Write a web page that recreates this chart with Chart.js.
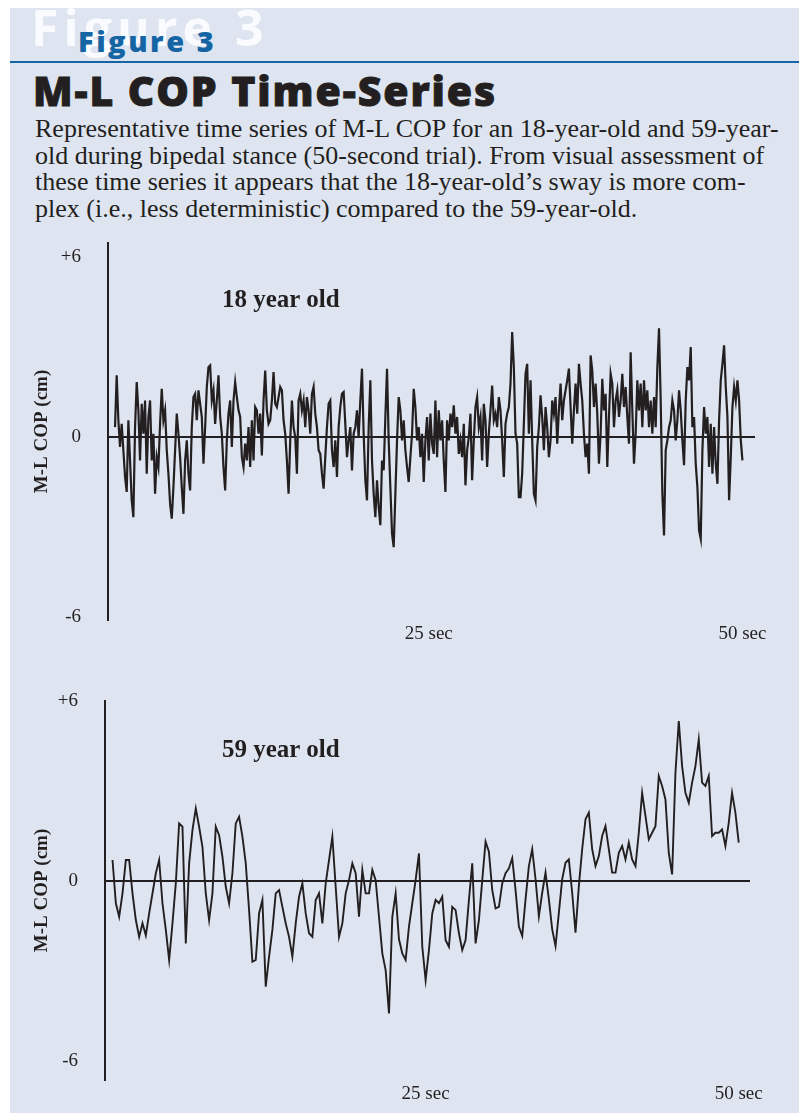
<!DOCTYPE html>
<html>
<head>
<meta charset="utf-8">
<script src="https://cdn.jsdelivr.net/npm/chart.js@4.4.0/dist/chart.umd.min.js"></script>
<style>
  html, body { margin: 0; padding: 0; background: #fff; }
  body { width: 799px; height: 1113px; position: relative; overflow: hidden; }
  #panel { position: absolute; left: 10px; top: 8px; width: 789px; height: 1105px; background: #dee5f0; }
  .ghost { position: absolute; left: 31px; top: 3px; font: 700 50px/49px "Open Sans"; letter-spacing: 5px; color: #fafbfe; white-space: nowrap; }
  .fig { position: absolute; left: 78px; top: 26px; font: 800 29px/29px "Open Sans"; letter-spacing: 2.5px; color: #1565a5; white-space: nowrap; }
  .rule { position: absolute; left: 10px; top: 61px; width: 789px; height: 2px; background: #1565a5; }
  .title { position: absolute; left: 33px; top: 70px; font: 800 41px/40px "Open Sans"; letter-spacing: 1.9px; -webkit-text-stroke: 0.9px #231f20; color: #231f20; white-space: nowrap; }
  .caption { position: absolute; left: 35px; top: 116px; font: 26px/26.7px "Liberation Serif"; color: #231f20; white-space: nowrap; }
  .tag { position: absolute; left: 222px; font: 700 25px/25px "Liberation Serif"; color: #231f20; white-space: nowrap; }
  canvas { position: absolute; left: 0; }
</style>
</head>
<body>
<div id="panel"></div>
<div class="ghost">Figure 3</div>
<div class="fig">Figure 3</div>
<div class="rule"></div>
<div class="title">M-L COP Time-Series</div>
<div class="caption">Representative time series of M-L COP for an 18-year-old and 59-year-<br>old during bipedal stance (50-second trial). From visual assessment of<br>these time series it appears that the 18-year-old’s sway is more com-<br>plex (i.e., less deterministic) compared to the 59-year-old.</div>
<canvas id="young" width="799" height="430" style="top:230px"></canvas>
<canvas id="old" width="799" height="423" style="top:690px"></canvas>
<div class="tag" style="top:286px">18 year old</div>
<div class="tag" style="top:736px">59 year old</div>

<script>
// trial length in seconds, both traces sampled evenly across it
const trialSeconds = 50;
const yTicks = [-6, 0, 6];
const xTicks = [25, 50];

// M-L COP (cm), 18 year old
const cop18 = [
  0.33, 2.06, 0.56, -0.33, 0.44, -0.44, -1.33, -1.83, 0.56, -0.78,
  -2.11, -2.67, 0.33, 1.83, 0.89, -0.78, 1.11, 0.11, 1.22, -1.22,
  0.67, 1.22, -0.78, 0.11, -1.89, -0.67, -1.0, 0.44, 1.61, 0.56,
  0.89, -0.44, -1.22, -2.22, -2.72, -1.67, -0.44, 0.78, 0.11, -0.67,
  -1.67, -2.56, -0.78, -0.11, -1.22, -1.78, 0.33, 1.33, 1.44, 0.56,
  1.56, 1.11, 0.67, -0.89, 0.33, 1.67, 2.33, 2.39, 1.22, 1.56,
  0.44, 1.22, 2.06, 0.67, 0.11, -1.0, -1.78, -0.11, 0.78, 1.22,
  -0.33, 1.22, 1.83, 1.33, 0.89, 0.67, -0.67, -1.0, -0.22, -0.78,
  0.33, -1.0, 0.56, -0.78, 1.0, 0.89, 0.11, 0.78, -0.61, 1.22,
  2.22, 0.89, 0.44, 0.56, 1.22, 2.17, 1.11, 1.0, 1.33, 1.67,
  1.56, 0.56, 0.11, -0.78, -1.89, -0.11, 1.22, 0.33, 0.0, -1.22,
  1.22, 1.44, 0.89, 1.22, 0.33, 1.33, 0.89, 0.11, 1.44, 1.67,
  0.78, 0.33, -0.44,
  -0.56, -1.22, -1.72, -0.67, 0.33, 1.11, 1.22, -0.44, -1.0, -0.11,
  -1.33, 0.33, 1.0, 1.44, 1.5, 0.44, -0.67, -0.11, 0.33, -1.11,
  0.11, 0.33, 0.89, 0.0, 1.22, 2.28, 0.11, -1.44, -2.11, 0.33,
  1.89, -0.78, -1.89, -2.67, -1.44, -2.33, -2.94, -0.78, -1.11, 0.67,
  2.28, -0.11, -1.67, -3.22, -3.67, -1.89, -0.11, 1.33, 0.89, -0.11,
  0.56, -0.44, -1.0, -1.5, -0.67, 0.11, 1.61, 1.0, -0.11, 0.33,
  -0.67, 0.11, -1.5, -0.11, 0.67, -0.78, 0.78, -0.22, -0.56, 1.22,
  -0.67, 0.89, -0.11, 0.56, -0.78, -1.83, 0.56, -0.11, 0.78, 0.33,
  1.06, 0.11, 0.67, -0.56, -0.11, -0.67, 0.44, -1.61, -0.44, 0.0,
  0.78, -1.44, -0.11, 1.0, 1.33, 0.33, 0.67, -0.78, 1.11, 0.56,
  -1.0, 0.11, 0.89, 1.72, 0.56, 0.78, 0.33, 1.33, 0.89, -0.11,
  -1.33, 0.44, 0.78, 1.0, 1.78, 3.5, 2.33, 0.11, -0.22, -2.0,
  -2.0, -1.22, 0.44, 2.11, 2.44, 0.11, 1.89, -0.11, -1.89, -2.11,
  -0.33, 0.33, 1.39, 0.67, -0.44, 1.0, 0.33, -0.67, -0.11, 1.22,
  0.78, 1.33, -0.22, 0.89, 1.78, 0.56, 1.22, 1.56, 1.89, 2.28,
  1.0, -0.22, 0.89, 1.78, 0.78, 2.44, 1.78, 1.22, 0.11, -0.67,
  -0.22, -1.22, 2.72, 2.22, 1.0, 1.78, 0.78, -0.89, 0.11, 1.94,
  0.89, 1.44, -1.0, 0.67, 2.11, 1.78, 0.33, 1.22, 1.56, 0.67,
  1.22, 2.11, 1.0, 1.67, 0.67, -0.22, 2.83, 0.89, -0.89, 0.11,
  1.89, 0.89, 1.78, 0.33, 1.89, 0.89, 1.56, 0.33, 1.22, 0.11,
  1.33, 0.33, 2.33, 3.63, 1.22, -1.89, -3.28, -0.44, -0.11, 0.33,
  0.56, 1.22, 0.89, -0.11, 0.56, 1.56, 0.89, -0.11, -0.94, 1.22,
  2.33, 1.89, 3.0, 0.33, 0.67, -0.89, -1.67, -3.11, -3.39, -0.44,
  1.0, 0.11, 0.67, -1.0, 0.44, -1.22, 0.33, -0.89, -1.56, 0.56,
  1.89, 2.44, 3.06, 1.67, 0.67, -2.11, -0.67, 1.0, 1.67, 1.22,
  1.89, 1.22, -0.11, -0.78
];

// M-L COP (cm), 59 year old
const cop59 = [
  0.7, -0.74, -1.19, -0.41, 0.7, 0.7, -0.41, -1.3, -1.86, -1.41,
  -1.81, -1.08, -0.41, 0.26, 0.7, -0.74, -1.63, -2.63, -1.41, -0.08,
  1.92, 1.81, -2.08, 0.59, 1.7, 2.42, 1.81, 1.14, -0.41, -1.3,
  -0.41, 1.81, 1.53, 0.81, -0.19, -0.74, 0.26, 1.92, 2.14, 1.48,
  0.59, -0.97, -2.69, -2.63, -1.08, -0.63, -3.52, -2.52, -1.63, -0.41,
  -0.3, -0.86, -1.41, -1.86, -2.52, -1.41, -0.52, -0.08, -1.08, -1.74,
  -1.86, -0.63, -0.41,
  -1.41, -0.08, 0.7, 1.48, -0.19, -1.86, -1.41, -0.41, 0.03, 0.59,
  0.26, -1.19, 0.37, -0.41, -0.41, 0.37, 0.03, -1.19, -2.41, -2.97,
  -4.41, -1.19, -0.41, -1.94, -2.41, -2.63, -1.52, -0.74, 0.03, 0.92,
  -2.19, -3.3, -2.3, -1.08, -0.63, -0.74, -0.52, -1.97, -2.19, -0.86,
  -0.97, -1.74, -2.3, -1.97, -0.63, 0.59, -2.08, -1.3, 0.03, 1.31,
  0.98, -0.3, -0.91, -0.86, -0.08, 0.26, 0.42, 0.76, -0.3, -1.52,
  -1.83, -0.61, 0.5, 1.06, 0.06, -1.17, -0.39, 0.28, -0.61, -1.61,
  -2.17, -1.06, 0.06, 0.61, 0.72, -0.39, -1.72, -0.17, 1.06, 2.06,
  2.28, 1.06, 0.5, 0.83, 1.5, 1.83, 1.06, 0.28, 0.28, 0.94,
  1.17, 0.72, 1.28, 0.72, 0.5, 1.61, 2.94, 2.17, 1.39, 1.61,
  1.83, 3.5, 3.17, 2.72, 0.94, 0.22, 3.61, 5.33, 3.83, 2.94,
  2.61, 3.28, 3.83, 4.72, 3.28, 3.17, 3.5, 1.5, 1.61, 1.61,
  1.72, 1.17, 1.94, 2.94, 2.28, 1.28
];

Chart.defaults.font.family = '"Liberation Serif", "Times New Roman", serif';
Chart.defaults.color = '#231f20';

const ink = '#231f20';

function points(values) {
  const dt = trialSeconds / (values.length - 1);
  return values.map((v, i) => ({ x: i * dt, y: v }));
}

function makeChart(id, values, opts) {
  return new Chart(document.getElementById(id), {
    type: 'line',
    data: {
      datasets: [{
        data: points(values),
        borderColor: ink,
        borderWidth: opts.lineWidth,
        borderJoinStyle: 'miter',
        pointRadius: 0,
        tension: 0
      }]
    },
    options: {
      responsive: false,
      animation: false,
      devicePixelRatio: 1,
      layout: { padding: opts.padding },
      plugins: { legend: { display: false }, tooltip: { enabled: false } },
      scales: {
        x: {
          type: 'linear',
          min: opts.xMin,
          max: opts.xMax,
          afterBuildTicks: (s) => { s.ticks = xTicks.map(v => ({ value: v })); },
          afterFit: (s) => { s.height = 30; },
          grid: { display: false, drawTicks: false },
          border: { display: false },
          ticks: {
            padding: 3,
            font: { size: 19 },
            maxRotation: 0,
            callback: (v) => v + ' sec'
          }
        },
        y: {
          min: opts.yMin,
          max: opts.yMax,
          afterBuildTicks: (s) => { s.ticks = yTicks.map(v => ({ value: v })); },
          afterFit: (s) => { s.width = opts.axisWidth; },
          grid: {
            drawTicks: true,
            tickLength: 27,
            tickColor: 'rgba(0,0,0,0)',
            lineWidth: 2,
            color: (c) => (c.tick && c.tick.value === 0 ? ink : 'rgba(0,0,0,0)')
          },
          border: { display: true, color: ink, width: 2 },
          ticks: {
            padding: 0,
            font: { size: 19, lineHeight: 1 },
            callback: (v) => (v > 0 ? '+' + v : String(v))
          },
          title: {
            display: true,
            text: 'M-L COP (cm)',
            font: { size: 19, weight: 'bold' },
            padding: { top: 31, bottom: 0 }
          }
        }
      }
    }
  });
}

makeChart('young', cop18, {
  lineWidth: 2.2,
  padding: { top: 13, right: 44, bottom: 10, left: 0 },
  axisWidth: 108,
  xMin: -0.56, xMax: 51.0,
  yMin: -6.1, yMax: 6.47
});

makeChart('old', cop59, {
  lineWidth: 1.9,
  padding: { top: 11, right: 49, bottom: 3, left: 0 },
  axisWidth: 105,
  xMin: -0.6, xMax: 50.9,
  yMin: -6.63, yMax: 6.0
});
</script>
</body>
</html>
